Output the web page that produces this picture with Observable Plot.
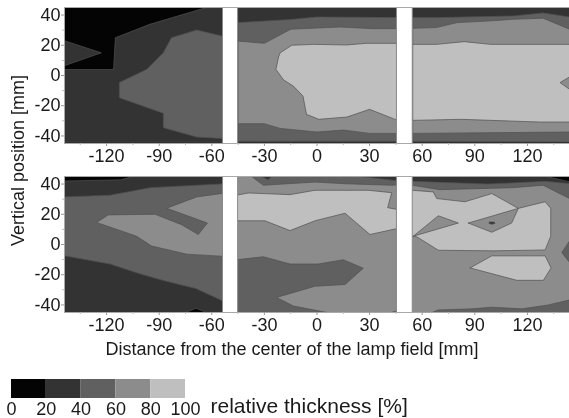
<!DOCTYPE html>
<html><head><meta charset="utf-8">
<script src="https://cdn.jsdelivr.net/npm/d3@7"></script>
<script src="https://cdn.jsdelivr.net/npm/@observablehq/plot@0.6"></script>
<style>html,body{margin:0;background:#fff}svg{display:block}</style>
</head><body><div id="chart"></div>
<script>
const levelBreaks = [20, 40, 60, 80];
const greys = ["#040404", "#333333", "#606060", "#8c8c8c", "#bfbfbf"];
const xLabels = [-120, -90, -60, -30, 0, 30, 60, 90, 120];
const xMinor = [-135, -105, -75, -45, -15, 15, 45, 75, 105, 135];
const yLabels = [-40, -20, 0, 20, 40];
const yMinor = [-30, -10, 10, 30];
const lampGaps = [[-53.6, -45], [45.6, 54.6]];
const legendStops = [0, 20, 40, 60, 80];

// Upper map: regions, [distance, vertical]
const upBase = [[-144,45],[144,45],[144,-45],[-144,-45]];
const upDark = [[-144,45],[-63,45],[-95,34],[-115,25],[-116,4],[-144,4],[-144,6.5],[-123,15],[-144,23]];
const upDarkEdge = [[-144,-44.2],[144,-44.2],[144,-46],[-144,-46]];
const upLeft50 = [[-52,25.5],[-68.6,30.1],[-83,25],[-87.6,15.1],[-97,4.1],[-112.7,-4.7],[-112.7,-14.7],[-87.6,-25],[-87.6,-34.5],[-68.6,-40.7],[-52,-41.8]];
const upMid50 = [[-45,35],[-30,36],[-15,37],[0,38.7],[46,38.3],[46,-43.5],[-45,-43.5]];
const upMid70 = [[-45,22.8],[-30,21.3],[-15,30.6],[13,32.1],[32,31],[46,31],[46,-38.3],[30,-38.3],[15,-36.1],[0,-37.4],[-21,-35],[-30,-31.9],[-45,-31.9]];
const upMid90 = [[-22,12],[-21,15],[-14.4,20],[-2,20.6],[17,20.2],[28,21.3],[46,21.3],[46,-29.7],[30,-22.4],[17,-27.5],[1,-29],[-6,-25.7],[-8,-13.6],[-13.5,-7],[-19,-3],[-23.4,4]];
const upRight50 = [[54.6,38.3],[68,38.3],[112,39.4],[129,41.4],[144,38.7],[144,-44],[54.6,-43.5]];
const upRight70 = [[54.6,31.2],[68,31.7],[80,35],[97,36],[112,37.2],[129,37.9],[144,30.6],[144,-37.4],[54.6,-38.3]];
const upRight90 = [[54.6,20.6],[68,20.6],[84,22.4],[99,20.6],[144,20.6],[144,-1],[138.6,-4.7],[144,-9.1],[144,-30.8],[127,-30.8],[82,-29],[54.6,-29.7]];

// Lower map
const loLeftBase = [[-144,45],[-52,45],[-52,-46],[-144,-46]];
const loLeftDark = [[-144,45],[-105,45],[-112,42.8],[-144,42]];
const loLeftBlip = [[-77,-46],[-69,-42.2],[-61,-46]];
const loLeft50 = [[-144,31.5],[-118,32.6],[-95,37.6],[-52,40.2],[-52,-37.2],[-54,-37.2],[-69,-29.2],[-88,-23.7],[-101,-19.4],[-118,-12.9],[-144,-7.5]];
const loLeft70 = [[-52,34.1],[-68.6,31.5],[-85.7,24],[-62.5,14.2],[-67.7,6.6],[-77.2,13.1],[-92.4,20],[-119,19.6],[-125.7,14.6],[-102.9,5.5],[-94.3,-1],[-74.3,-6.4],[-52,-7.9]];
const loMidBase = [[-46,45],[47,45],[47,-46],[-46,-46]];
const loMidTop50 = [[-37.2,45],[-30.6,39.2],[-1.1,41.3],[16,40.2],[42.6,39.2],[47,39.5],[47,45]];
const loMidSliverA = [[-31.5,45],[-25.8,45],[-28,42.8]];
const loMidSliverB = [[25,45],[47,45],[47,42]];
const loMid90 = [[-46,32.6],[-39.2,34.1],[-15.4,33],[-1.1,35.9],[29.1,35.9],[42.6,34.3],[40.3,24.4],[47,22.9],[47,10.9],[30.2,6.6],[16,20.7],[-1.1,15.7],[-15.4,9.2],[-29.7,15.7],[-46,15.7]];
const loMid50 = [[-46,-10.1],[-30.6,-8.1],[-15.4,-12.9],[0.7,-12.9],[15,-10.1],[26.4,-15.7],[16,-26.5],[-1.1,-27.6],[-23,-35],[-13.5,-40.7],[10.3,-46],[-46,-46]];
const loMidCorner = [[39.8,-46],[47,-43.3],[47,-46]];
const loRightBase = [[54,45],[144,45],[144,-46],[54,-46]];
const loRightTop50 = [[54,45],[144,45],[144,30.4],[129,39.2],[111.8,37.6],[70.2,36.3],[54,39.2]];
const loRightTop30 = [[54,45],[144,45],[144,40.3],[130,41.8],[97.5,40],[54,41.8]];
const loRightTop10 = [[131,45],[144,45],[144,41.5]];
const loRightMain90 = [[54,35.9],[66.3,34.8],[68.3,30.4],[84.4,28.3],[99.7,33.7],[114.8,23.9],[130.1,28.3],[133.3,23.9],[133.3,5.5],[130.1,-3.6],[100.6,-4.2],[69.2,-3.8],[56.9,5.1],[54,5.5]];
const loRightTri = [[54.9,5.5],[69.2,19],[80.6,14.2]];
const loRightKite = [[86.3,14.2],[114.8,23.9],[111,14.2],[99.7,8.1]];
const loRightDot = [[98.4,14.9],[101,14.9],[101.6,14],[99.7,13.4],[98,14]];
const loRightIsland = [[87.3,-15.5],[99.7,-7.5],[130.1,-7.5],[133.5,-15.5],[129.1,-23.7],[113.9,-23.7]];
const loRightNotch = [[144,2.3],[139.6,-5.3],[144,-11.8]];
const loRightBottom = [[63.5,-46],[69.2,-43.3],[88.2,-42.6],[99.7,-41.5],[116.8,-42.6],[131.9,-40],[144,-36.7],[144,-46]];

const layers = [
  ["upper", 30, upBase], ["upper", 10, upDark], ["upper", 50, upLeft50],
  ["upper", 50, upMid50], ["upper", 70, upMid70], ["upper", 90, upMid90],
  ["upper", 50, upRight50], ["upper", 70, upRight70], ["upper", 90, upRight90],
  ["upper", 10, upDarkEdge],
  ["lower", 30, loLeftBase], ["lower", 10, loLeftDark], ["lower", 10, loLeftBlip],
  ["lower", 50, loLeft50], ["lower", 70, loLeft70],
  ["lower", 70, loMidBase], ["lower", 50, loMidTop50], ["lower", 30, loMidSliverA],
  ["lower", 30, loMidSliverB], ["lower", 90, loMid90], ["lower", 50, loMid50],
  ["lower", 50, loMidCorner],
  ["lower", 70, loRightBase], ["lower", 50, loRightTop50], ["lower", 30, loRightTop30],
  ["lower", 10, loRightTop10], ["lower", 90, loRightMain90], ["lower", 70, loRightTri],
  ["lower", 70, loRightKite], ["lower", 30, loRightDot], ["lower", 90, loRightIsland],
  ["lower", 50, loRightNotch], ["lower", 50, loRightBottom]
];
const rows = layers.flatMap(([panel, level, pts], id) =>
  [...pts, pts[0]].map(([x, y]) => ({panel, level, id, x, y})));

const color = {type: "threshold", domain: levelBreaks, range: greys};
const baseStyle = {fontFamily: "'Liberation Sans', Arial, sans-serif", fontSize: "18px", background: "#fff", color: "#1a1a1a", overflow: "visible", filter: "blur(0.35px)"};

const main = Plot.plot({
  width: 569, height: 368,
  marginLeft: 64, marginRight: 0, marginTop: 7, marginBottom: 55,
  style: baseStyle,
  color,
  x: {domain: [-144, 144]},
  y: {domain: [-45, 45]},
  fy: {domain: ["upper", "lower"], axis: null, paddingInner: 0.1947, paddingOuter: 0},
  marks: [
    Plot.line(rows, {x: "x", y: "y", z: "id", fy: "panel", fill: "level", stroke: "#505050", strokeWidth: 0.7, clip: true}),
    Plot.rect(lampGaps, {x1: d => d[0], x2: d => d[1], y1: -45.5, y2: 45.5, fill: "#fff", stroke: "#8a8a8a", strokeWidth: 1, clip: true}),
    Plot.frame({stroke: "#a8a8a8"}),
    Plot.axisX({ticks: xLabels, tickFormat: d => String(d), tickSize: 3, tickPadding: 3, stroke: "#999", label: null, facetAnchor: null}),
    Plot.axisX({ticks: xMinor, tickSize: 2, stroke: "#bbb", text: null, label: null, facetAnchor: null}),
    Plot.axisY({ticks: yLabels, tickFormat: d => String(d), tickSize: 3, tickPadding: 1, stroke: "#999", label: null}),
    Plot.axisY({ticks: yMinor, tickSize: 2, stroke: "#bbb", text: null, label: null}),
    Plot.text(["Vertical position [mm]"], {fy: () => "upper", frameAnchor: "bottom-left", dx: -41, dy: 17, rotate: -90, textAnchor: "middle", text: d => d}),
    Plot.text(["Distance from the center of the lamp field [mm]"], {fy: () => "lower", frameAnchor: "bottom", dx: -25, dy: 42, text: d => d})
  ]
});

const legend = Plot.plot({
  width: 569, height: 50,
  marginLeft: 11, marginRight: 384, marginTop: 11, marginBottom: 20,
  style: baseStyle,
  color,
  x: {domain: [0, 100]},
  marks: [
    Plot.rect(legendStops, {x1: d => d, x2: d => d + 20, fill: d => d + 10}),
    Plot.axisX({ticks: [0, 20, 40, 60, 80, 100], tickSize: 0, tickPadding: 4, tickFormat: d => String(d), label: null}),
    Plot.text(["relative thickness [%]"], {frameAnchor: "bottom-right", dx: 25, dy: 14, textAnchor: "start", fontSize: 21, text: d => d})
  ]
});
document.getElementById("chart").append(main, legend);
</script></body></html>
